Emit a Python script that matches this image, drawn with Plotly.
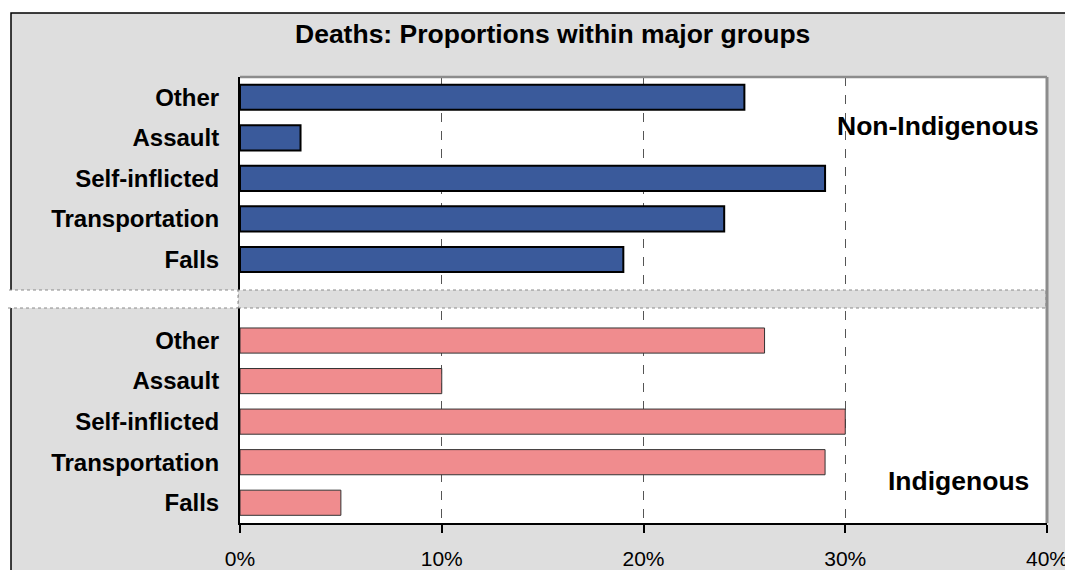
import plotly.graph_objects as go

# ---- data ----
categories = ["Other", "Assault", "Self-inflicted", "Transportation", "Falls"]
non_indigenous = [0.25, 0.03, 0.29, 0.24, 0.19]
indigenous = [0.26, 0.10, 0.30, 0.29, 0.05]
x_ticks = [0, 0.1, 0.2, 0.3, 0.4]
x_tick_labels = ["0%", "10%", "20%", "30%", "40%"]
title_text = "Deaths: Proportions within major groups"
group_labels = ["Non-Indigenous", "Indigenous"]

# ---- layout geometry (pixels) ----
OFF = 8  # page body margin offset
W, H = 1073 - OFF, 570 - OFF
L, T = 240 - OFF, 77 - OFF
PW, PH = 807, 446
R = W - L - PW
B = H - T - PH

def px_x(x):
    return (x - OFF - L) / PW

def px_y(y):
    return (T + PH - (y - OFF)) / PH

n = len(categories)
top_pos = [2 * n - i for i in range(n)]       # 10..6
bot_pos = [n - 1 - i for i in range(n)]       # 4..0

FONT = "Liberation Sans, Arial, sans-serif"

fig = go.Figure()
fig.add_trace(go.Bar(
    y=top_pos, x=non_indigenous, orientation="h", width=0.62,
    marker=dict(color="#3A5A9B", line=dict(color="#000000", width=2)),
    name=group_labels[0], showlegend=False, hoverinfo="x",
))
fig.add_trace(go.Bar(
    y=bot_pos, x=indigenous, orientation="h", width=0.62,
    marker=dict(color="#F08C8E", line=dict(color="#333333", width=1)),
    name=group_labels[1], showlegend=False, hoverinfo="x",
))

shapes = [
    dict(type="rect", xref="paper", yref="paper", layer="below",
         x0=px_x(11), x1=px_x(1090), y0=px_y(13), y1=px_y(590),
         fillcolor="#DEDEDE", line=dict(color="#000000", width=1.5)),
    dict(type="rect", xref="paper", yref="paper", layer="below",
         x0=0, x1=1, y0=0, y1=1, fillcolor="#FFFFFF", line=dict(width=0)),
    dict(type="rect", xref="paper", yref="paper", layer="above",
         x0=px_x(238), x1=px_x(1046), y0=px_y(308), y1=px_y(290),
         fillcolor="#DEDEDE", line=dict(color="#8A8A8A", width=1, dash="dot")),
    dict(type="rect", xref="paper", yref="paper", layer="above",
         x0=px_x(2), x1=px_x(238), y0=px_y(308), y1=px_y(290),
         fillcolor="#FFFFFF", line=dict(color="#8A8A8A", width=1, dash="dot")),
    dict(type="line", xref="paper", yref="paper", layer="above",
         x0=0, x1=1, y0=1, y1=1, line=dict(color="#8C8C8C", width=2.5)),
    dict(type="line", xref="paper", yref="paper", layer="above",
         x0=1, x1=1, y0=0, y1=1, line=dict(color="#8C8C8C", width=3)),
]

annotations = [
    dict(text="<b>" + title_text + "</b>", xref="paper", yref="paper",
         x=px_x(552), y=px_y(34), xanchor="center", yanchor="middle",
         showarrow=False, font=dict(family=FONT, size=26.5, color="#000000")),
    dict(text="<b>" + group_labels[0] + "</b>", xref="paper", yref="paper",
         x=px_x(938), y=px_y(126), xanchor="center", yanchor="middle",
         showarrow=False, font=dict(family=FONT, size=26.5, color="#000000")),
    dict(text="<b>" + group_labels[1] + "</b>", xref="paper", yref="paper",
         x=px_x(958), y=px_y(481), xanchor="center", yanchor="middle",
         showarrow=False, font=dict(family=FONT, size=26.5, color="#000000")),
]

fig.update_layout(
    width=W, height=H,
    margin=dict(l=L, r=R, t=T, b=B, pad=0, autoexpand=False),
    paper_bgcolor="#FFFFFF", plot_bgcolor="rgba(0,0,0,0)",
    shapes=shapes, annotations=annotations,
    xaxis=dict(
        range=[0, 0.4], tickvals=x_ticks, ticktext=x_tick_labels,
        showgrid=True, gridcolor="#555555", griddash="dash", gridwidth=1,
        zeroline=False, showline=True, linecolor="#000000", linewidth=2,
        ticks="outside", ticklen=8, tickwidth=1.5, tickcolor="#000000",
        ticklabelstandoff=8, automargin=False,
        tickfont=dict(family=FONT, size=21, color="#000000"),
        fixedrange=True,
    ),
    yaxis=dict(
        range=[-0.5, 2 * n + 0.5],
        tickvals=top_pos + bot_pos,
        ticktext=["<b>%s</b>" % c for c in categories] * 2,
        showgrid=False, zeroline=False,
        showline=True, linecolor="#000000", linewidth=2,
        ticks="", ticklabelstandoff=14, automargin=False,
        tickfont=dict(family=FONT, size=24, color="#000000"),
        fixedrange=True,
    ),
)

fig.write_html("out.html")
